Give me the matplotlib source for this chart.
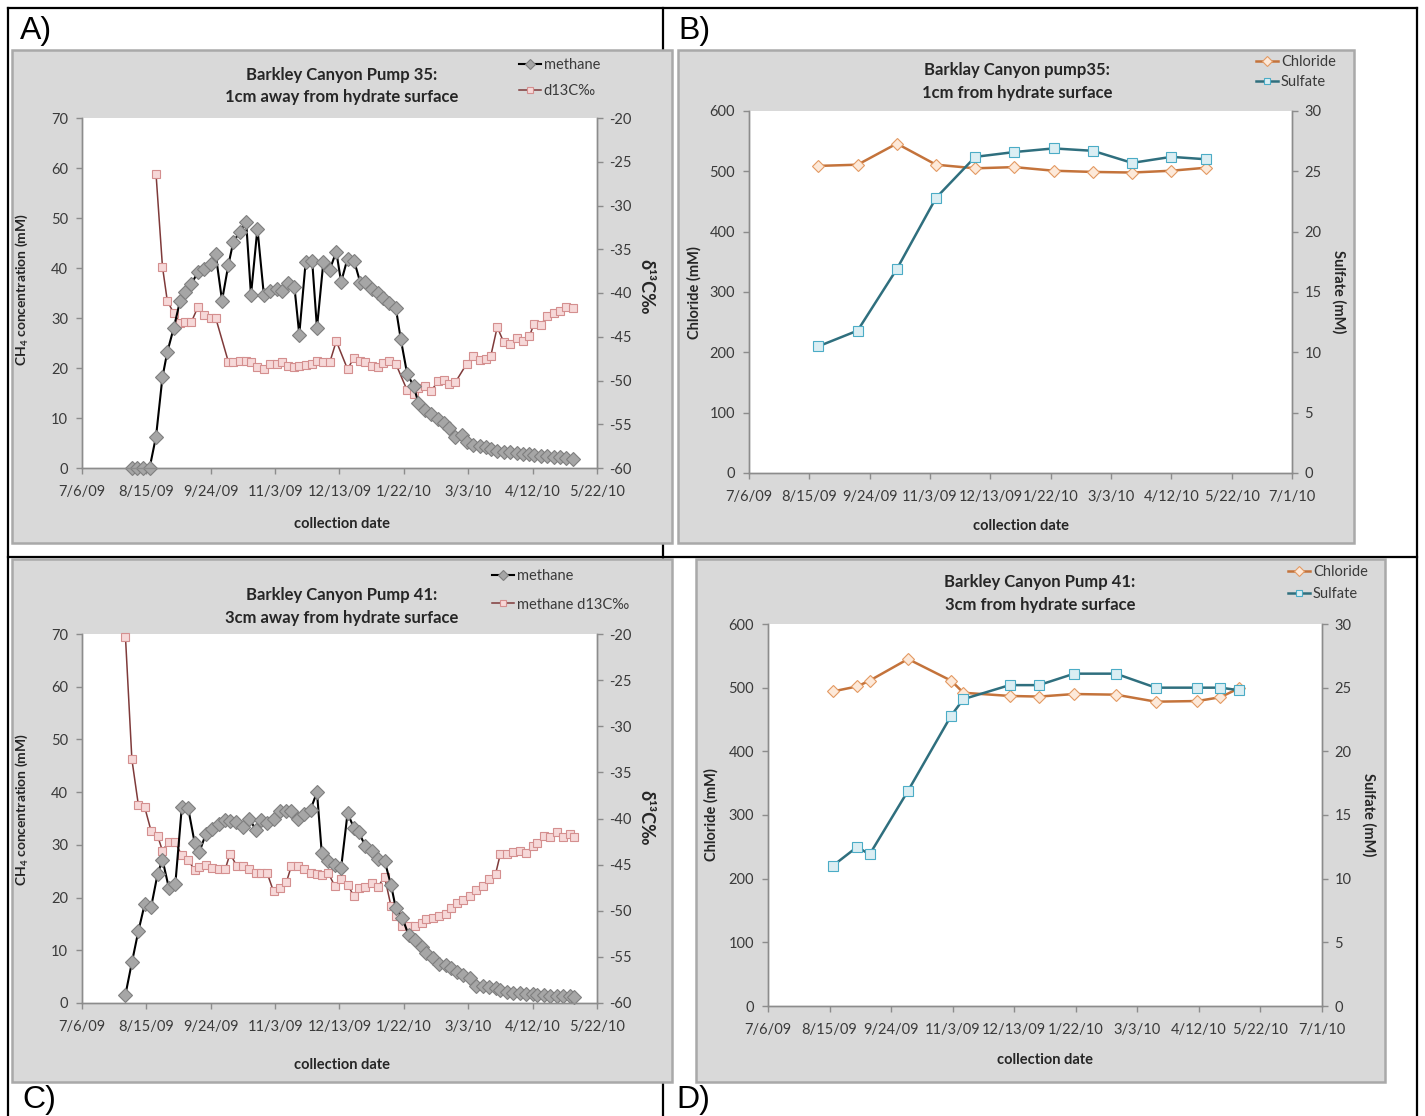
import matplotlib.pyplot as plt
import matplotlib.patches as mpatches
from matplotlib.lines import Line2D
import numpy as np
import pandas as pd

plt.rcParams["font.family"] = ["Lato", "DejaVu Sans"]
plt.rcParams["axes.unicode_minus"] = False
plt.rcParams["mathtext.fontset"] = "custom"
plt.rcParams["mathtext.rm"] = "Lato"
plt.rcParams["mathtext.bf"] = "Lato:bold"

nan = np.nan
start_date = pd.Timestamp("2009-07-06")

# pump 35, 1cm from hydrate: sampling day (days after 7/6/09), CH4 (mM), d13C (permil)
p35_day = [31, 34, 38, 42, 46, 50, 53, 57, 61, 64,
           68, 72, 76, 80, 83, 87, 91, 94, 98, 102,
           105, 109, 113, 117, 121, 124, 128, 132, 135, 139,
           143, 146, 150, 154, 158, 161, 165, 169, 173, 176,
           180, 184, 187, 191, 195, 198, 202, 206, 209, 213,
           217, 221, 225, 228, 232, 236, 239, 243, 247, 251,
           254, 258, 262, 266, 270, 274, 278, 281, 285, 289,
           293, 297, 301, 305]
p35_methane = [0, 0, 0, 0, 6.3, 18.2, 23.2, 28.0, 33.5, 35.2,
               36.8, 39.2, 39.9, 40.8, 42.9, 33.5, 40.7, 45.2, 47.2, 49.2,
               34.6, 47.9, 34.6, 35.4, 35.8, 35.4, 37.0, 36.2, 26.7, 41.3,
               41.5, 28.0, 41.3, 39.7, 43.3, 37.2, 41.9, 41.5, 37.0, 37.3,
               35.8, 35.0, 34.0, 33.0, 32.0, 25.9, 18.9, 16.4, 13.1, 11.7,
               10.9, 9.8, 9.0, 8.0, 6.2, 6.7, 5.2, 4.7, 4.5, 4.2,
               3.8, 3.5, 3.2, 3.2, 3.0, 2.9, 2.8, 2.7, 2.5, 2.4,
               2.3, 2.2, 2.1, 1.9]
p35_d13c = [nan, nan, nan, nan, -26.4, -37.0, -40.9, -42.3, -43.4, -43.3,
            -43.3, -41.6, -42.5, -42.8, -42.8, nan, -47.9, -47.9, -47.8, -47.8,
            -47.9, -48.5, -48.7, -48.1, -48.1, -47.9, -48.3, -48.5, -48.3, -48.2,
            -48.1, -47.8, -47.9, -47.9, -45.5, nan, -48.7, -47.4, -47.8, -47.9,
            -48.3, -48.5, -48.0, -47.8, -48.1, nan, -51.1, -51.5, -50.8, -50.6,
            -51.2, -50.1, -49.9, -50.4, -50.2, nan, -48.1, -47.2, -47.7, -47.5,
            -47.2, -43.9, -45.6, -45.8, -45.1, -45.5, -44.9, -43.5, -43.7, -42.6,
            -42.3, -42.0, -41.6, -41.7]

# pump 41, 3cm from hydrate
p41_day = [27, 31, 35, 39, 43, 47, 50, 54, 58, 62,
           66, 70, 73, 77, 81, 85, 89, 92, 96, 100,
           104, 108, 111, 115, 119, 123, 127, 130, 134, 138,
           142, 146, 149, 153, 157, 161, 165, 169, 172, 176,
           180, 184, 188, 192, 195, 199, 203, 207, 211, 214,
           218, 222, 226, 229, 233, 237, 241, 245, 249, 253,
           257, 260, 264, 268, 272, 276, 280, 283, 287, 291,
           295, 299, 303, 306]
p41_methane = [1.6, 7.7, 13.6, 18.8, 18.3, 24.5, 27.2, 21.8, 22.6, 37.1,
               36.9, 30.4, 28.7, 32.1, 33.0, 33.9, 34.7, 34.5, 34.4, 33.4,
               35.0, 32.8, 34.8, 34.1, 35.0, 36.5, 36.5, 36.5, 35.0, 35.8,
               36.7, 40.0, 28.4, 26.9, 26.2, 25.6, 36.0, 33.2, 32.4, 29.8,
               28.9, 27.4, 27.0, 22.4, 18.0, 16.1, 12.9, 12.0, 10.7, 9.5,
               8.5, 7.4, 7.3, 6.6, 5.9, 5.4, 4.7, 3.2, 3.2, 3.0,
               2.8, 2.5, 2.1, 1.9, 1.9, 1.8, 1.7, 1.6, 1.5, 1.4,
               1.4, 1.3, 1.3, 1.2]
p41_d13c = [-20.3, -33.6, -38.5, -38.8, -41.4, -41.9, -43.5, -42.5, -42.6, -44.0,
            -44.5, -45.6, -45.3, -45.0, -45.4, -45.5, -45.5, -43.8, -45.1, -45.2,
            -45.5, -45.9, -45.9, -45.9, -47.9, -47.5, -46.9, -45.2, -45.2, -45.5,
            -45.9, -46.0, -46.1, -45.9, -47.3, -46.6, -47.2, -48.4, -47.5, -47.4,
            -47.0, -47.4, -46.3, -49.5, -50.6, -51.7, -51.7, -51.6, -51.3, -50.9,
            -50.8, -50.6, -50.4, -49.7, -49.2, -48.8, -48.4, -47.7, -47.3, -46.6,
            -46.0, -43.8, -43.8, -43.6, -43.5, -43.7, -43.0, -42.7, -41.9, -42.0,
            -41.5, -42.0, -41.7, -42.0]

# pore water chemistry
p35_ion_day = [46, 72, 98, 124, 150, 176, 202, 228, 254, 280, 303]
p35_chloride = [509, 511, 546, 511, 505, 507, 501, 499, 498, 501, 506]
p35_sulfate = [10.5, 11.8, 16.9, 22.8, 26.2, 26.6, 26.9, 26.7, 25.7, 26.2, 26.0]

p41_ion_day = [42, 58, 66, 91, 119, 127, 157, 176, 199, 226, 252, 279, 294, 306]
p41_chloride = [494, 502, 511, 545, 511, 492, 487, 486, 490, 489, 478, 479, 485, 499]
p41_sulfate = [11.0, 12.5, 11.9, 16.9, 22.8, 24.1, 25.2, 25.2, 26.1, 26.1,
               25.0, 25.0, 25.0, 24.8]

W, H = 1425, 1116
chart_grey = "#d9d9d9"
edge_grey = "#a9a9a9"
axis_grey = "#8c8c8c"
text_grey = "#3a3a3a"

fig = plt.figure(figsize=(W / 100, H / 100), dpi=100)
fig.patch.set_facecolor("white")


def fx(x):
    return x / W


def fy(y):
    return 1 - y / H


def as_dates(days):
    return (start_date + pd.to_timedelta(np.array(days), unit="D")).to_numpy()


def rule(x0, y0, x1, y1):
    fig.add_artist(Line2D([fx(x0), fx(x1)], [fy(y0), fy(y1)], transform=fig.transFigure,
                          color="black", lw=1.6, zorder=-3))


def chart_area(x0, y0, x1, y1):
    fig.add_artist(mpatches.Rectangle((fx(x0), fy(y1)), (x1 - x0) / W, (y1 - y0) / H,
                                      transform=fig.transFigure, facecolor=chart_grey,
                                      edgecolor=edge_grey, lw=1.8, zorder=-2))


def make_axes(left, top, right, bottom, n_ticks):
    ax = fig.add_axes([fx(left), fy(bottom), (right - left) / W, (bottom - top) / H])
    ax.set_facecolor("white")
    ax2 = ax.twinx()
    ticks = pd.date_range(start_date, periods=n_ticks, freq="40D")
    ax.set_xlim(ticks[0], ticks[-1])
    ax.set_xticks(ticks)
    ax.set_xticklabels([f"{d.month}/{d.day}/{d:%y}" for d in ticks])
    for a in (ax, ax2):
        a.spines["top"].set_visible(False)
        for s in ("left", "right", "bottom"):
            a.spines[s].set_color(axis_grey)
            a.spines[s].set_linewidth(1.0)
        a.tick_params(colors=axis_grey, labelcolor=text_grey, labelsize=10.5,
                      length=4, width=1.0, direction="out")
    ax.tick_params(axis="x", pad=8)
    ax.tick_params(axis="y", pad=6)
    ax2.tick_params(axis="y", pad=5)
    return ax, ax2


def legend(handles, labels, x, y, spacing):
    fig.legend(handles, labels, loc="upper left", bbox_to_anchor=(fx(x), fy(y)),
               frameon=False, fontsize=10.5, handlelength=1.5, handletextpad=0.2,
               labelspacing=spacing, borderpad=0, borderaxespad=0, numpoints=1,
               labelcolor=text_grey)


def title(x, y1, y2, line1, line2):
    fig.text(fx(x), fy(y1), line1, ha="center", va="center", fontsize=12,
             fontweight="bold", color="#262626")
    fig.text(fx(x), fy(y2), line2, ha="center", va="center", fontsize=12,
             fontweight="bold", color="#262626")


def label(x, y, s, rot=0, size=10.5):
    fig.text(fx(x), fy(y), s, ha="center", va="center", rotation=rot, fontsize=size,
             fontweight="bold", color="#262626")


methane_style = dict(color="black", lw=1.5, marker="D", ms=7, mfc="#a6a6a6", mec="#7f7f7f",
                     mew=0.8, clip_on=False)
d13c_style = dict(color="#7f3a3a", lw=1.1, marker="s", ms=5.5, mfc="#f6d8d8", mec="#d48f8f",
                  mew=0.8, clip_on=False)
chloride_style = dict(color="#c4733b", lw=1.8, marker="D", ms=6, mfc="#fde9d9", mec="#e39a63",
                      mew=0.8, clip_on=False)
sulfate_style = dict(color="#2f6f7e", lw=1.8, marker="s", ms=6.5, mfc="#dbeef3", mec="#4bacc6",
                     mew=0.8, clip_on=False)

# table grid
rule(8, 8, 1417, 8)
rule(8, 8, 8, 1116)
rule(1417, 8, 1417, 1116)
rule(8, 557, 1417, 557)
rule(663, 8, 663, 1116)

chart_area(12, 50, 672, 543)
chart_area(678, 50, 1354, 543)
chart_area(12, 559, 672, 1082)
chart_area(696, 559, 1385, 1082)

for s, x, y in [("A)", 20, 31), ("B)", 678, 31), ("C)", 22, 1100), ("D)", 676, 1100)]:
    fig.text(fx(x), fy(y), s, ha="left", va="center", fontsize=23, family="Liberation Sans")


# methane panels
def methane_panel(box, days, ch4, d13c):
    ax, ax2 = make_axes(*box, 9)
    dates = as_dates(days)
    d13c = np.array(d13c, dtype=float)
    ok = ~np.isnan(d13c)
    ax2.plot(dates[ok], d13c[ok], **d13c_style)
    ax.plot(dates, ch4, **methane_style)
    ax.set_zorder(ax2.get_zorder() + 1)
    ax.patch.set_visible(False)
    ax2.patch.set_visible(True)
    ax2.patch.set_facecolor("white")
    ax.set_ylim(0, 70)
    ax.set_yticks(range(0, 71, 10))
    ax2.set_ylim(-60, -20)
    ax2.set_yticks(range(-60, -19, 5))
    return ax, ax2


def ion_panel(box, days, cl, so4):
    ax, ax2 = make_axes(*box, 10)
    dates = as_dates(days)
    ax.plot(dates, cl, **chloride_style)
    ax2.plot(dates, so4, **sulfate_style)
    ax.set_ylim(0, 600)
    ax.set_yticks(range(0, 601, 100))
    ax2.set_ylim(0, 30)
    ax2.set_yticks(range(0, 31, 5))
    return ax, ax2


methane_panel((82, 118, 597, 468), p35_day, p35_methane, p35_d13c)
ion_panel((749, 111, 1292, 473), p35_ion_day, p35_chloride, p35_sulfate)
methane_panel((82, 634, 597, 1003), p41_day, p41_methane, p41_d13c)
ion_panel((768, 624, 1322, 1006), p41_ion_day, p41_chloride, p41_sulfate)

m_handle = Line2D([], [], **{**methane_style, "ms": 5.5})
d_handle = Line2D([], [], **{**d13c_style, "ms": 5})
c_handle = Line2D([], [], **{**chloride_style, "ms": 5})
s_handle = Line2D([], [], **{**sulfate_style, "ms": 5})

title(342, 75, 97, "Barkley Canyon Pump 35:", "1cm away from hydrate surface")
legend([m_handle, d_handle], ["methane", "d13C‰"], 519, 58, 0.8)
label(22, 290, "CH$_\\mathbf{4}$ concentration (mM)", rot=90, size=10)
label(646, 287, "δ¹³C‰", rot=270, size=13)
label(342, 524, "collection date")

title(1017, 70, 93, "Barklay Canyon pump35:", "1cm from hydrate surface")
legend([c_handle, s_handle], ["Chloride", "Sulfate"], 1256, 55, 0.4)
label(694, 293, "Chloride (mM)", rot=90)
label(1339, 292, "Sulfate (mM)", rot=270)
label(1021, 526, "collection date")

title(342, 595, 618, "Barkley Canyon Pump 41:", "3cm away from hydrate surface")
legend([m_handle, d_handle], ["methane", "methane d13C‰"], 492, 569, 1.0)
label(22, 810, "CH$_\\mathbf{4}$ concentration (mM)", rot=90, size=10)
label(646, 818, "δ¹³C‰", rot=270, size=13)
label(342, 1065, "collection date")

title(1040, 582, 605, "Barkley Canyon Pump 41:", "3cm from hydrate surface")
legend([c_handle, s_handle], ["Chloride", "Sulfate"], 1288, 565, 0.55)
label(711, 815, "Chloride (mM)", rot=90)
label(1369, 815, "Sulfate (mM)", rot=270)
label(1045, 1060, "collection date")

fig.savefig("out.png", dpi=100)
